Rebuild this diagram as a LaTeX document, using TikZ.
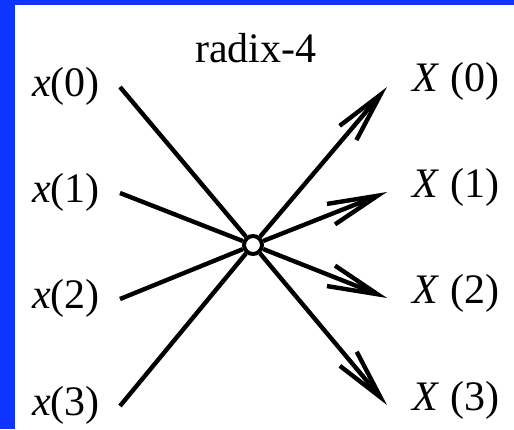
\documentclass[tikz,border=0pt]{standalone}
\usepackage{fontspec}
\setmainfont{Liberation Serif}
\usetikzlibrary{arrows.meta}
\definecolor{slideblue}{RGB}{16,52,255}

\begin{document}
\begin{tikzpicture}[x=0.5pt,y=-0.5pt,font=\fontsize{21}{25}\selectfont,
      lbl/.style={inner sep=0pt},
      wire/.style={line width=2.2pt},
      arr/.style={wire,-{Straight Barb[length=25pt,width=11pt]}},
      hub/.style={circle,draw,fill=white,line width=2pt,minimum size=9pt,inner sep=0pt}]
    \useasboundingbox (0,0) rectangle (514,429);
    \fill[white] (0,0) rectangle (514,429);
    \fill[slideblue] (0,0) rectangle (15,429);
    \fill[slideblue] (0,0) rectangle (514,5);
    \node[lbl,anchor=base] (title) at (256,62) {radix-4};
    \node[lbl] (x0) at (66,86) {\textit{x}(0)};
    \node[lbl] (x1) at (66,192) {\textit{x}(1)};
    \node[lbl] (x2) at (66,298) {\textit{x}(2)};
    \node[lbl] (x3) at (66,405) {\textit{x}(3)};
    \node[lbl] (X0) at (456,81) {\textit{X}\ (0)};
    \node[lbl] (X1) at (456,187) {\textit{X}\ (1)};
    \node[lbl] (X2) at (456,293) {\textit{X}\ (2)};
    \node[lbl] (X3) at (456,400) {\textit{X}\ (3)};
    \coordinate (i0) at (120,87); \coordinate (i1) at (120,193);
    \coordinate (i2) at (120,299); \coordinate (i3) at (120,406);
    \coordinate (o0) at (387,87); \coordinate (o1) at (387,192);
    \coordinate (o2) at (387,298); \coordinate (o3) at (387,405);
    \node[hub] (bfly) at (253,245) {};
    \draw[wire] (i0)--(bfly); \draw[wire] (i1)--(bfly); \draw[wire] (i2)--(bfly); \draw[wire] (i3)--(bfly);
    \draw[arr] (bfly)--(o0); \draw[arr] (bfly)--(o1); \draw[arr] (bfly)--(o2); \draw[arr] (bfly)--(o3);
  \end{tikzpicture}
\end{document}
